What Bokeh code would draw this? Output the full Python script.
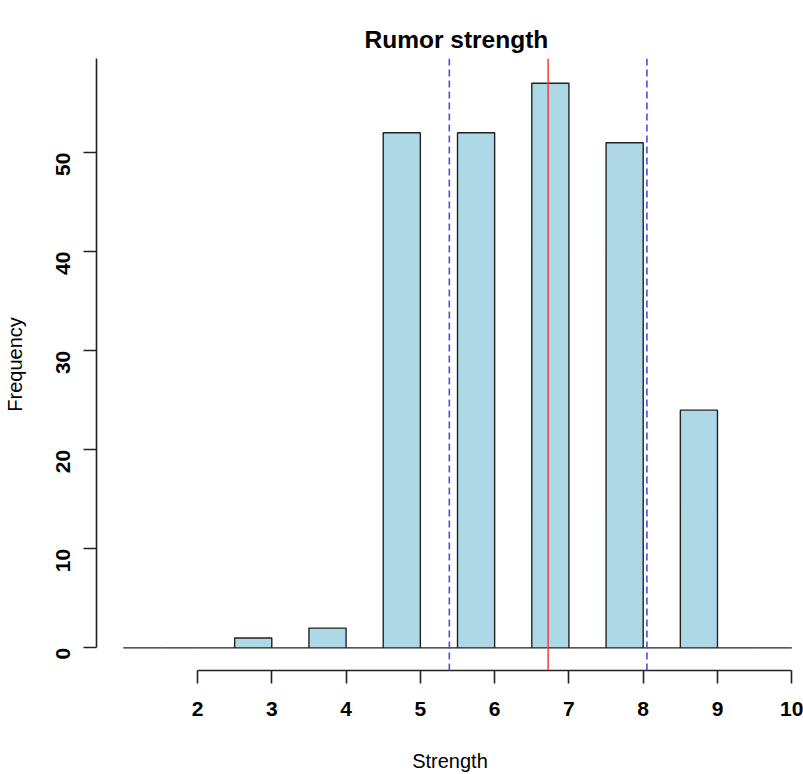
import math
from bokeh.plotting import figure
from bokeh.models import FixedTicker, Span, Range1d, Title
from bokeh.embed import file_html
from bokeh.resources import INLINE

# ---- data ----
bin_left = [1.0, 1.5, 2.0, 2.5, 3.0, 3.5, 4.0, 4.5, 5.0, 5.5, 6.0, 6.5, 7.0, 7.5, 8.0, 8.5, 9.0, 9.5]
bin_right = [1.5, 2.0, 2.5, 3.0, 3.5, 4.0, 4.5, 5.0, 5.5, 6.0, 6.5, 7.0, 7.5, 8.0, 8.5, 9.0, 9.5, 10.0]
counts = [0, 0, 0, 1, 0, 2, 0, 52, 0, 52, 0, 57, 0, 51, 0, 24, 0, 0]
mean_value = 6.72
sd_lines = [5.39, 8.05]
x_ticks = [2, 3, 4, 5, 6, 7, 8, 9, 10]
y_ticks = [0, 10, 20, 30, 40, 50]
title_text = "Rumor strength"
x_label = "Strength"
y_label = "Frequency"

FONT = "Liberation Sans"

p = figure(width=803, height=774,
           x_range=Range1d(0.64, 10.158), y_range=Range1d(-2.28, 59.5),
           output_backend="svg", toolbar_location=None,
           min_border_left=96, min_border_right=0, min_border_top=58, min_border_bottom=101)
p.grid.visible = False
p.outline_line_color = None
p.background_fill_color = "white"
p.border_fill_color = "white"

p.title = Title(text=title_text, align="left", text_font=FONT, text_font_size="24.5px",
                text_font_style="bold", text_color="black", standoff=12, offset=268)

p.quad(left=bin_left, right=bin_right, bottom=0, top=counts,
       fill_color="#ADD8E6", line_color="#222222", line_width=1.4)

p.add_layout(Span(location=mean_value, dimension="height", line_color="#ee4040", line_width=1.5))
for s in sd_lines:
    p.add_layout(Span(location=s, dimension="height", line_color="#4a4af0", line_width=1.6,
                      line_dash="7 4"))

xa = p.xaxis[0]
xa.ticker = FixedTicker(ticks=x_ticks)
xa.bounds = (x_ticks[0], x_ticks[-1])
xa.minor_tick_line_color = None
xa.major_tick_in = 0
xa.major_tick_out = 13
xa.axis_line_color = "#222222"
xa.axis_line_width = 1.6
xa.major_tick_line_color = "#222222"
xa.major_tick_line_width = 1.6
xa.major_label_text_font = FONT
xa.major_label_text_font_size = "21px"
xa.major_label_text_font_style = "bold"
xa.major_label_text_color = "black"
xa.major_label_standoff = 18
xa.axis_label = x_label
xa.axis_label_text_font = FONT
xa.axis_label_text_font_size = "20px"
xa.axis_label_text_font_style = "normal"
xa.axis_label_text_color = "black"
xa.axis_label_standoff = 31

ya = p.yaxis[0]
ya.ticker = FixedTicker(ticks=y_ticks)
ya.bounds = (0, 59.5)
ya.minor_tick_line_color = None
ya.major_tick_in = 0
ya.major_tick_out = 13
ya.axis_line_color = "#222222"
ya.axis_line_width = 1.6
ya.major_tick_line_color = "#222222"
ya.major_tick_line_width = 1.6
ya.major_label_text_font = FONT
ya.major_label_text_font_size = "21px"
ya.major_label_text_font_style = "bold"
ya.major_label_text_color = "black"
ya.major_label_orientation = math.pi / 2
ya.major_label_standoff = 20
ya.axis_label = y_label
ya.axis_label_text_font = FONT
ya.axis_label_text_font_size = "20px"
ya.axis_label_text_font_style = "normal"
ya.axis_label_text_color = "black"
ya.axis_label_standoff = 21

open("out.html", "w").write(file_html(p, INLINE))
